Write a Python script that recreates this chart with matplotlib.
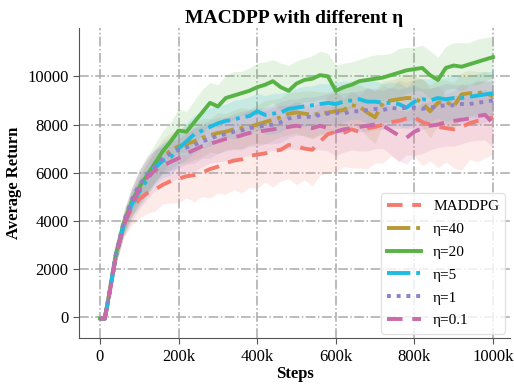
import numpy as np
import matplotlib
matplotlib.use("Agg")
import matplotlib.pyplot as plt

plt.rcParams['font.family'] = ['Liberation Serif', 'DejaVu Serif']

steps_k = [0, 12, 20, 40, 60, 80, 100, 120, 140, 160, 180, 200, 220, 240, 260, 280, 300, 320, 340, 360, 380,
           400, 420, 440, 460, 480, 500, 520, 540, 560, 580, 600, 620, 640, 660, 680, 700, 720, 740, 760, 780,
           800, 820, 840, 860, 880, 900, 920, 940, 960, 980, 1000]

maddpg = [-50, -60, 600, 2500, 3800, 4500, 4900, 5150, 5300, 5500, 5650, 5750, 5850, 5900, 6000, 6150, 6250, 6400, 6500, 6550, 6700,
          6750, 6800, 6900, 6950, 7150, 7100, 7000, 6950, 7300, 7600, 7700, 7650, 7800, 7700, 7850, 7900, 8000, 8100, 8150, 8250,
          8300, 8100, 8000, 7900, 7850, 7800, 7900, 8050, 8150, 8200, 8300]
eta40 = [-50, -60, 600, 2500, 3800, 4700, 5300, 5800, 6300, 6700, 6900, 7100, 7200, 7300, 7450, 7550, 7650, 7700, 7800, 7850, 7900,
         8000, 8100, 8200, 8300, 8450, 8500, 8450, 8400, 8450, 8500, 8550, 8600, 8800, 8750, 8500, 8300, 8900, 9000, 9050, 9100,
         9100, 8900, 8550, 8900, 8950, 8750, 9250, 9300, 9300, 9350, 9150]
eta20 = [-50, -60, 650, 2600, 3900, 4750, 5400, 5900, 6400, 6900, 7300, 7750, 7700, 8100, 8500, 8900, 8750, 9100, 9200, 9300, 9400,
         9550, 9650, 9800, 9550, 9400, 9700, 9850, 9900, 10050, 10000, 9400, 9550, 9650, 9800, 9850, 9900, 9950, 10050, 10150, 10250,
         10300, 10350, 10050, 9850, 10350, 10450, 10400, 10500, 10600, 10700, 10800]
eta5 = [-50, -60, 600, 2500, 3800, 4650, 5200, 5700, 6200, 6500, 6650, 7000, 7300, 7600, 7750, 7900, 8050, 8150, 8200, 8300, 8350,
        8550, 8400, 8450, 8500, 8650, 8700, 8750, 8800, 8850, 8900, 8850, 8950, 9000, 9050, 8950, 8950, 8900, 8900, 8850, 8700,
        8950, 9050, 9000, 9100, 9050, 9100, 9100, 9150, 9200, 9250, 9300]
eta1 = [-50, -60, 650, 2600, 3950, 4850, 5500, 5900, 6300, 6600, 6800, 6950, 7050, 7150, 7300, 7400, 7550, 7600, 7700, 7750, 7850,
        7900, 7950, 8000, 8100, 8250, 8300, 8350, 8300, 8400, 8450, 8500, 8450, 8550, 8550, 8600, 8650, 8600, 8700, 8650, 8700,
        8700, 8650, 8700, 8750, 8800, 8800, 8850, 8850, 8900, 8950, 9000]
eta01 = [-50, -60, 600, 2500, 3800, 4650, 5300, 5800, 6100, 6300, 6450, 6600, 6800, 6950, 7100, 7200, 7300, 7400, 7450, 7550, 7650,
         7700, 7750, 7800, 7850, 7900, 7950, 7900, 7850, 7950, 7850, 7700, 7800, 7850, 7900, 7950, 8000, 7950, 7750, 7550, 7450,
         7700, 7850, 7950, 8000, 8100, 8150, 8200, 8250, 8350, 8400, 8050]

# band half-widths
sd_maddpg = [20, 20, 150, 300, 500, 700, 800, 850, 900, 800, 900, 1000, 900, 1100, 1000, 1200, 1100, 1300, 1200, 1400, 1300,
             1400, 1200, 1500, 1300, 1400, 1600, 1300, 1500, 1400, 1600, 1700, 1400, 1600, 1500, 1700, 1500, 1600, 1400, 1700, 1500,
             1600, 1800, 1500, 1700, 1400, 1600, 1800, 1500, 1700, 1600, 1500]
sd_eta40 = [20, 20, 150, 300, 400, 500, 600, 700, 650, 700, 750, 700, 800, 750, 800, 700, 850, 750, 800, 850, 750,
            800, 900, 850, 800, 900, 850, 950, 1000, 900, 850, 900, 950, 850, 900, 1000, 1100, 900, 850, 900, 950,
            900, 1000, 1100, 950, 900, 1000, 900, 950, 900, 850, 900]
sd_eta20 = [20, 20, 150, 350, 500, 600, 700, 750, 800, 850, 800, 900, 850, 900, 950, 850, 900, 950, 1000, 900, 950,
            1000, 950, 900, 1000, 1050, 950, 900, 950, 1000, 950, 1050, 1000, 950, 900, 950, 1000, 950, 900, 1000, 950,
            900, 950, 1000, 950, 900, 950, 1000, 900, 950, 900, 850]
sd_eta5 = [20, 20, 150, 300, 400, 500, 600, 650, 700, 700, 750, 700, 750, 800, 750, 800, 750, 700, 800, 750, 800,
           750, 800, 850, 800, 750, 800, 850, 800, 850, 800, 900, 850, 800, 850, 900, 850, 800, 850, 900, 850,
           900, 850, 900, 850, 900, 950, 900, 850, 900, 950, 900]
sd_eta1 = [20, 20, 150, 300, 400, 500, 600, 650, 700, 650, 700, 750, 700, 750, 700, 800, 750, 700, 750, 800, 750,
           800, 750, 800, 850, 800, 750, 800, 850, 800, 850, 800, 850, 800, 850, 900, 850, 800, 850, 800, 850,
           900, 850, 800, 850, 900, 850, 800, 850, 900, 850, 800]
sd_eta01 = [20, 20, 150, 350, 500, 700, 800, 900, 850, 800, 850, 800, 850, 900, 850, 800, 850, 900, 850, 900, 950,
            900, 850, 900, 950, 900, 1000, 950, 900, 1000, 950, 1000, 950, 900, 1000, 1050, 1000, 950, 1000, 1050, 1100,
            1000, 1050, 1000, 950, 1000, 1050, 1000, 950, 1000, 1050, 1000]

labels = ['MADDPG', 'η=40', 'η=20', 'η=5', 'η=1', 'η=0.1']
series = [maddpg, eta40, eta20, eta5, eta1, eta01]
sds = [sd_maddpg, sd_eta40, sd_eta20, sd_eta5, sd_eta1, sd_eta01]
colors = ['#F47A6E', '#BA9A36', '#57B344', '#1BBDE3', '#8F80C8', '#CA6AA8']
styles = [(0, (4, 2.5)), (0, (6, 1.5, 1, 1.5)), '-', (0, (6, 1.5, 1, 1.5)), (0, (1, 1.5)), (0, (4, 2.5))]

fig = plt.figure(figsize=(5.14, 3.86), dpi=100)
ax = fig.add_axes([0.154, 0.124, 0.838, 0.803])

x = np.array(steps_k) * 1000.0
for lab, y, sd, c, ls in zip(labels, series, sds, colors, styles):
    y = np.array(y, float)
    sd = np.array(sd, float)
    ax.fill_between(x, y - sd, y + sd, color=c, alpha=0.15, linewidth=0)
for lab, y, c, ls in zip(labels, series, colors, styles):
    ax.plot(x, y, color=c, linestyle=ls, linewidth=2.8, label=lab)

ax.set_xlim(-53000, 1043000)
ax.set_ylim(-870, 12000)
ax.set_xticks([0, 200000, 400000, 600000, 800000, 1000000])
ax.set_xticklabels(['0', '200k', '400k', '600k', '800k', '1000k'])
ax.set_yticks([0, 2000, 4000, 6000, 8000, 10000])
ax.tick_params(labelsize=12, length=4, color='#555555')
ax.grid(True, linestyle='-.', color='#aaaaaa', linewidth=1.1)
ax.set_axisbelow(True)
for s in ['top', 'right']:
    ax.spines[s].set_visible(False)
for s in ['left', 'bottom']:
    ax.spines[s].set_color('#555555')
ax.set_xlabel('Steps', fontsize=12, fontweight='bold', labelpad=1)
ax.set_ylabel('Average Return', fontsize=12, fontweight='bold')
ax.set_title('MACDPP with different η', fontsize=14, fontweight='bold', pad=4)
leg = ax.legend(loc='lower right', fontsize=11, frameon=True, handlelength=2.2,
                borderaxespad=0.3, labelspacing=0.6)
leg.get_frame().set_edgecolor('#dddddd')

fig.savefig('out.png', dpi=100)
